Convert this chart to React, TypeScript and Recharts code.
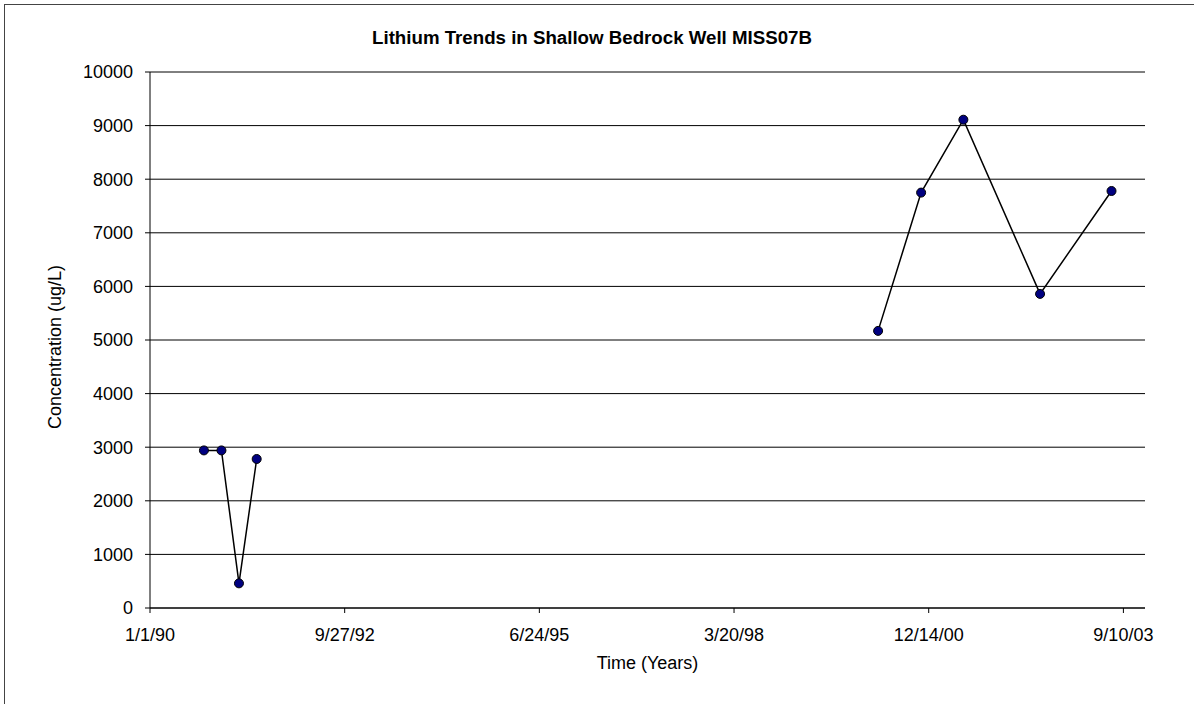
import { LineChart, Line, XAxis, YAxis, CartesianGrid, Label } from 'recharts'

// sampling dates (m/d/yy) and lithium concentrations (ug/L), two sampling periods
const earlyDates = ['10/5/90', '1/3/91', '4/3/91', '7/3/91']
const earlyLithium = [2940, 2940, 460, 2780]
const recentDates = ['3/29/00', '11/5/00', '6/10/01', '7/9/02', '7/11/03']
const recentLithium = [5170, 7750, 9110, 5860, 7780]

const xTickLabels = ['1/1/90', '9/27/92', '6/24/95', '3/20/98', '12/14/00', '9/10/03']
const yTicks = [0, 1000, 2000, 3000, 4000, 5000, 6000, 7000, 8000, 9000, 10000]

const FONT = '"Liberation Sans", Arial, sans-serif'

// Excel-style day serial from m/d/yy
function toSerial(s: string) {
  const [m, d, yy] = s.split('/').map(Number)
  const y = yy < 50 ? 2000 + yy : 1900 + yy
  return Math.round((Date.UTC(y, m - 1, d) - Date.UTC(1899, 11, 30)) / 86400000)
}

function fromSerial(n: number) {
  const dt = new Date(Date.UTC(1899, 11, 30) + n * 86400000)
  const yy = String(dt.getUTCFullYear() % 100).padStart(2, '0')
  return `${dt.getUTCMonth() + 1}/${dt.getUTCDate()}/${yy}`
}

const xTicks = xTickLabels.map(toSerial)
const early = earlyDates.map((d, i) => ({ t: toSerial(d), li: earlyLithium[i] }))
const recent = recentDates.map((d, i) => ({ t: toSerial(d), li: recentLithium[i] }))
const xDomain = [xTicks[0], 37985]

const tickStyle = { fontSize: 18, fill: '#000', fontFamily: FONT }
const dotStyle = { r: 4.5, fill: '#000080', stroke: '#000', strokeWidth: 1 }

export default function App() {
  return (
    <div style={{ position: 'fixed', left: 0, top: 0, width: 1194, height: 704, background: '#fff', overflow: 'hidden' }}>
      <div style={{ position: 'absolute', left: 4, top: 4, width: 1300, height: 800, borderLeft: '1px solid #444', borderTop: '1px solid #444' }} />
      <div style={{ position: 'absolute', left: 4, top: 27, width: 1176, textAlign: 'center', fontFamily: FONT, fontWeight: 'bold', fontSize: 18.7, color: '#000' }}>
        Lithium Trends in Shallow Bedrock Well MISS07B
      </div>
      <div style={{ position: 'absolute', left: 0, top: 0 }}>
        <LineChart width={1194} height={704} margin={{ top: 72, right: 49, left: 50, bottom: 36 }}>
          <CartesianGrid vertical={false} stroke="#000" strokeWidth={1} />
          <XAxis
            dataKey="t"
            type="number"
            domain={xDomain}
            ticks={xTicks}
            tickFormatter={fromSerial}
            tick={tickStyle}
            axisLine={{ stroke: '#000' }}
            tickLine={{ stroke: '#000' }}
            tickSize={5}
            tickMargin={15}
            height={60}
            allowDataOverflow
          >
            <Label
              content={({ viewBox }: any) => (
                <text x={viewBox.x + viewBox.width / 2} y={669} textAnchor="middle" fontSize={18} fontFamily={FONT} fill="#000">
                  Time (Years)
                </text>
              )}
            />
          </XAxis>
          <XAxis xAxisId="top" orientation="top" dataKey="t" type="number" domain={xDomain} height={0} tick={false} tickLine={false} axisLine={{ stroke: '#808080' }} />
          <YAxis
            domain={[0, 10000]}
            ticks={yTicks}
            tick={tickStyle}
            axisLine={{ stroke: '#000' }}
            tickLine={{ stroke: '#000' }}
            tickSize={5}
            tickMargin={12}
            width={100}
            interval={0}
          >
            <Label
              content={({ viewBox }: any) => {
                const cy = viewBox.y + viewBox.height / 2 + 7
                return (
                  <text x={61} y={cy} transform={`rotate(-90 61 ${cy})`} textAnchor="middle" fontSize={18} fontFamily={FONT} fill="#000">
                    Concentration (ug/L)
                  </text>
                )
              }}
            />
          </YAxis>
          <YAxis yAxisId="right" orientation="right" domain={[0, 10000]} width={0} tick={false} tickLine={false} axisLine={{ stroke: '#808080' }} />
          <Line data={early} dataKey="li" stroke="#000" strokeWidth={1.5} dot={dotStyle} activeDot={false} isAnimationActive={false} />
          <Line data={recent} dataKey="li" stroke="#000" strokeWidth={1.5} dot={dotStyle} activeDot={false} isAnimationActive={false} />
        </LineChart>
      </div>
    </div>
  )
}
